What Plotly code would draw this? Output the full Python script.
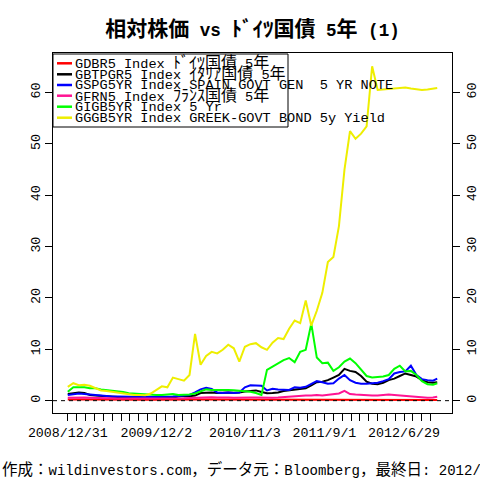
import pandas as pd
import plotly.graph_objects as go

# ---------------- data ----------------
start_date = "2008-12-31"
end_date = "2012-11-02"
# observation dates: every 15 business days + final day
dates = list(pd.bdate_range(start_date, periods=991)[::15]) + [pd.Timestamp(end_date)]

germany = [0.25, 0.28, 0.3, 0.28, 0.25, 0.22, 0.2, 0.2, 0.18, 0.18, 0.2, 0.2, 0.18, 0.18,
           0.17, 0.17, 0.16, 0.16, 0.18, 0.2, 0.2, 0.2, 0.2, 0.22, 0.25, 0.25, 0.22, 0.2,
           0.2, 0.22, 0.2, 0.2, 0.22, 0.22, 0.2, 0.2, 0.2, 0.22, 0.22, 0.2, 0.2, 0.2, 0.2,
           0.18, 0.18, 0.18, 0.2, 0.2, 0.2, 0.22, 0.22, 0.2, 0.18, 0.18, 0.15, 0.15, 0.15,
           0.15, 0.14, 0.14, 0.14, 0.13, 0.13, 0.12, 0.12, 0.12, 0.12, 0.13]
italy = [1.3, 1.5, 1.6, 1.5, 1.1, 1.0, 0.9, 0.8, 0.75, 0.7, 0.7, 0.65, 0.65, 0.6, 0.6, 0.6,
         0.6, 0.6, 0.55, 0.6, 0.8, 0.9, 0.85, 1.0, 1.5, 1.6, 1.6, 1.5, 1.6, 1.6, 1.55, 1.6,
         1.8, 1.9, 2.0, 1.7, 1.45, 1.5, 1.6, 1.9, 2.0, 2.1, 2.3, 2.4, 3.0, 3.6, 3.7, 4.0, 4.5,
         5.0, 6.2, 5.8, 5.6, 4.8, 3.7, 3.3, 3.2, 3.5, 4.0, 4.3, 4.8, 5.3, 5.0, 4.7, 4.0, 3.6,
         3.5, 3.6]
spain = [1.1, 1.3, 1.4, 1.3, 1.2, 1.0, 0.9, 0.85, 0.8, 0.8, 0.75, 0.7, 0.7, 0.7, 0.7, 0.7,
         0.7, 0.75, 0.7, 0.8, 0.9, 1.0, 1.1, 1.6, 2.2, 2.5, 2.3, 1.6, 1.5, 1.6, 1.5, 1.6, 2.6,
         3.0, 3.0, 2.9, 2.0, 2.3, 2.2, 2.1, 2.1, 2.6, 2.5, 2.7, 3.2, 3.8, 3.6, 3.3, 3.4, 4.3,
         5.0, 4.0, 3.5, 3.3, 3.3, 3.4, 3.5, 3.8, 4.2, 5.3, 5.6, 5.7, 6.8, 5.0, 4.2, 4.0, 3.9,
         4.3]
france = [0.55, 0.6, 0.65, 0.6, 0.55, 0.5, 0.45, 0.45, 0.4, 0.4, 0.4, 0.4, 0.4, 0.4, 0.4,
          0.4, 0.35, 0.35, 0.4, 0.45, 0.45, 0.45, 0.5, 0.55, 0.6, 0.7, 0.65, 0.6, 0.65, 0.6,
          0.55, 0.6, 0.55, 0.6, 0.6, 0.55, 0.5, 0.55, 0.6, 0.7, 0.75, 0.8, 0.9, 1.0, 1.0, 1.1,
          1.0, 1.1, 1.3, 1.4, 1.9, 1.3, 1.2, 1.1, 1.0, 1.0, 1.0, 1.1, 1.2, 1.1, 1.0, 0.9, 0.8,
          0.7, 0.6, 0.55, 0.6, 0.75]
ireland = [1.75, 2.6, 2.6, 2.6, 2.4, 2.4, 2.2, 2.1, 2.0, 1.9, 1.7, 1.45, 1.35, 1.3, 1.2, 1.1,
           1.1, 1.1, 1.2, 1.3, 1.1, 1.15, 1.2, 1.4, 1.75, 2.2, 2.1, 2.1, 2.2, 2.1, 2.05, 1.95,
           1.85, 1.75, 1.5, 1.1, 6.0, 6.6, 7.3, 7.9, 8.3, 7.5, 9.5, 9.9, 15.0, 8.4, 7.3, 7.4,
           5.8, 6.5, 7.6, 8.2, 7.3, 6.0, 4.8, 4.5, 4.6, 4.7, 5.0, 6.2, 6.8, 5.7, 5.8, 5.0, 3.8,
           3.2, 3.1, 3.4]
greece = [2.7, 3.4, 3.0, 3.1, 2.9, 2.5, 2.0, 1.9, 1.75, 1.6, 1.45, 1.2, 1.1, 1.1, 1.05, 1.4,
          2.1, 2.8, 2.6, 4.5, 4.2, 3.9, 5.0, 13.0, 7.0, 8.7, 9.5, 9.2, 9.9, 10.9, 10.2, 7.6,
          10.5, 11.0, 11.2, 10.4, 9.9, 11.3, 12.2, 12.0, 14.0, 15.6, 15.1, 19.5, 14.6, 17.5,
          21.0, 27.0, 28.0, 34.0, 45.0, 52.5, 51.0, 52.0, 53.4, 65.1, 60.5, 60.6, 60.7, 60.9,
          61.0, 61.0, 60.8, 60.6, 60.5, 60.6, 60.7, 60.9]

series = [germany, italy, spain, france, ireland, greece]
labels = ["GDBR5 Index ﾄﾞｲﾂ国債 5年",
          "GBTPGR5 Index ｲﾀﾘｱ国債 5年",
          "GSPG5YR Index SPAIN GOVT GEN\u00a0 5 YR NOTE",
          "GFRN5 Index ﾌﾗﾝｽ国債 5年",
          "GIGB5YR Index 5 Yr",
          "GGGB5YR Index GREEK-GOVT BOND 5y Yield"]
colors = ["#FF0000", "#000000", "#0000FF", "#FF1493", "#00FF00", "#EEEE00"]

tick_dates = list(pd.bdate_range(start_date, periods=41 * 24 + 1)[::24])
label_idx = {0: "2008/12/31", 10: "2009/12/2", 20: "2010/11/3", 29: "2011/9/1", 38: "2012/6/29"}
tick_text = [label_idx.get(i, "") for i in range(len(tick_dates))]
y_ticks = [0, 10, 20, 30, 40, 50, 60]

title_text = "相対株価 vs ﾄﾞｲﾂ国債 5年 (1)"
footer_text = "作成：wildinvestors.com，データ元：Bloomberg，最終日: 2012/11/2"

# ---------------- helpers ----------------
MONO = "Liberation Mono, Noto Sans CJK JP"


def mixed(s, big):
    out, buf = [], ""
    for ch in s:
        if ord(ch) >= 0x2E80:
            buf += ch
        else:
            if buf:
                out.append(f'<span style="font-size:{big}px">{buf}</span>')
                buf = ""
            out.append(ch)
    if buf:
        out.append(f'<span style="font-size:{big}px">{buf}</span>')
    return "".join(out)


# ---------------- figure ----------------
L, R, T, B = 53, 28, 53, 67
W = 480 - L - R
H = 480 - T - B


def px(x):
    return (x - L) / W


def py(y):
    return (480 - B - y) / H


fig = go.Figure()
for vals, c in zip(series, colors):
    fig.add_trace(go.Scatter(x=dates, y=vals, mode="lines",
                             line=dict(color=c, width=2), showlegend=False,
                             hoverinfo="skip"))
# empty trace so that the right-hand axis is drawn
fig.add_trace(go.Scatter(x=[], y=[], yaxis="y2", showlegend=False, hoverinfo="skip"))

d0 = pd.Timestamp(start_date)
d1 = pd.Timestamp(end_date)
pad = (d1 - d0) * 0.04
yr = [-2.4, 67.7]

axis_font = dict(family=MONO, size=13.3, color="black")
fig.update_layout(
    width=480, height=480,
    margin=dict(l=L, r=R, t=T, b=B, autoexpand=False),
    paper_bgcolor="white", plot_bgcolor="white",
    title=dict(text=mixed(title_text, 21), x=px(252.5), xref="paper",
               y=1 - 29.5 / 480, yref="container", xanchor="center", yanchor="middle",
               automargin=False,
               font=dict(family=MONO, size=17.6, color="black", weight="bold")),
    xaxis=dict(type="date", range=[d0 - pad, d1 + pad], tickvals=tick_dates,
               ticktext=tick_text, ticks="outside", ticklen=7, tickcolor="black",
               showline=True, linecolor="black", linewidth=1, mirror=True,
               showgrid=False, zeroline=False, tickfont=axis_font, tickangle=0,
               automargin=False),
    yaxis=dict(range=yr, tickvals=y_ticks, ticks="outside", ticklen=7,
               tickcolor="black", showline=True, linecolor="black", linewidth=1,
               mirror=True, showgrid=False, zeroline=False, tickangle=-90,
               tickfont=axis_font, automargin=False),
    yaxis2=dict(range=yr, tickvals=y_ticks, ticks="outside", ticklen=7,
                tickcolor="black", showline=True, linecolor="black", linewidth=1,
                overlaying="y", side="right", showgrid=False, zeroline=False,
                tickangle=-90, tickfont=axis_font, automargin=False),
)

shapes = [dict(type="line", xref="paper", yref="y", x0=0, x1=1, y0=0, y1=0,
               line=dict(color="black", width=1, dash="4px,4px"))]
# legend box
shapes.append(dict(type="rect", xref="paper", yref="paper", x0=0, x1=px(288),
                   y0=py(127), y1=py(54), line=dict(color="black", width=1),
                   fillcolor="white", layer="above"))
row_y = [63.3, 74.3, 85.0, 95.7, 106.7, 117.7]
annotations = []
for ry, c, lab in zip(row_y, colors, labels):
    shapes.append(dict(type="line", xref="paper", yref="paper", x0=px(57), x1=px(72),
                       y0=py(ry), y1=py(ry), line=dict(color=c, width=2.5)))
    annotations.append(dict(text=mixed(lab, 16), xref="paper", yref="paper",
                            x=px(73), y=py(ry + 0.5), xanchor="left", yanchor="middle",
                            showarrow=False, font=dict(family=MONO, size=13.6, color="black")))
annotations.append(dict(text=mixed(footer_text, 15.5), xref="paper", yref="paper",
                        x=px(0), y=py(470), xanchor="left", yanchor="middle",
                        showarrow=False, font=dict(family=MONO, size=14, color="black")))
fig.update_layout(shapes=shapes, annotations=annotations)

fig.write_html("out.html", post_script="document.body.style.margin='0px';",
               config={"displayModeBar": False})
